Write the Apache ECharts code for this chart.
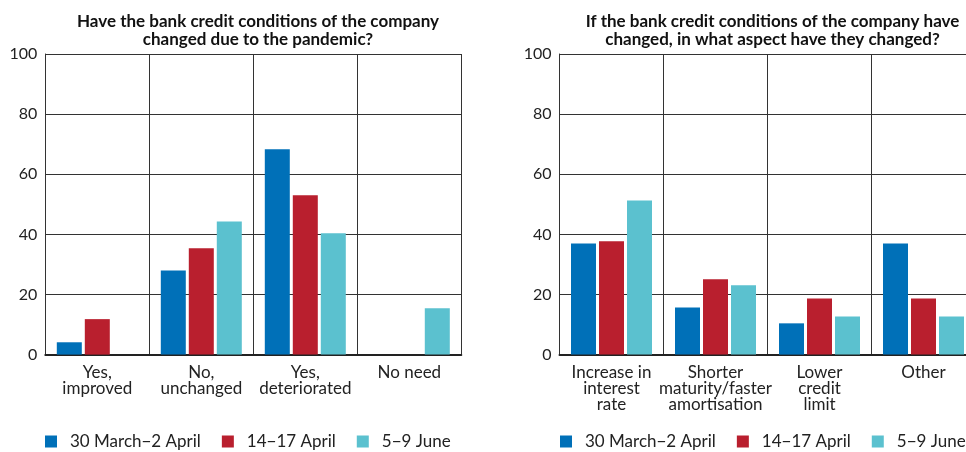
<!DOCTYPE html>
<html><head><meta charset="utf-8">
<script src="https://cdn.jsdelivr.net/npm/echarts@6/dist/echarts.min.js"></script>
<style>html,body{margin:0;padding:0;background:#fff}#c{width:966px;height:452px}</style>
</head><body><div id="c"></div>
<script>
var seriesNames = ['30 March\u22122 April', '14\u221217 April', '5\u22129 June'];
var colors = ['#0070b8', '#b91f2e', '#5bc1cf'];

var titleLeft = 'Have the bank credit conditions of the company\nchanged due to the pandemic?';
var categoriesLeft = ['Yes,\nimproved', 'No,\nunchanged', 'Yes,\ndeteriorated', 'No need'];
var marchLeft = [4.1, 28.0, 68.3, 0];
var aprilLeft = [11.8, 35.4, 53.0, 0];
var juneLeft = [0, 44.3, 40.4, 15.4];

var titleRight = 'If the bank credit conditions of the company have\nchanged, in what aspect have they changed?';
var categoriesRight = ['Increase in\ninterest\nrate', 'Shorter\nmaturity/faster\namortisation', 'Lower\ncredit\nlimit', 'Other'];
var marchRight = [37.0, 15.7, 10.4, 37.0];
var aprilRight = [37.7, 25.1, 18.7, 18.7];
var juneRight = [51.3, 23.1, 12.7, 12.7];

var yTicks = {min: 0, max: 100, interval: 20};

var font = 'Lato';
var chart = echarts.init(document.getElementById('c'));

function xAxis(cats, gi) {
  return {
    type: 'category', gridIndex: gi, data: cats,
    axisTick: {show: false},
    axisLine: {lineStyle: {color: '#222', width: 2}},
    splitLine: {show: true, lineStyle: {color: '#333', width: 1}},
    axisLabel: {interval: 0, fontFamily: font, fontSize: 17, lineHeight: 16, color: '#222', margin: 10}
  };
}
function yAxis(gi) {
  return {
    type: 'value', gridIndex: gi, min: yTicks.min, max: yTicks.max, interval: yTicks.interval,
    axisTick: {show: false},
    axisLine: {show: true, lineStyle: {color: '#333', width: 1}},
    splitLine: {show: true, lineStyle: {color: '#333', width: 1}},
    axisLabel: {fontFamily: font, fontSize: 16, color: '#222', margin: 8}
  };
}
function bars(name, data, gi, ci) {
  return {
    type: 'bar', name: name, data: data, xAxisIndex: gi, yAxisIndex: gi,
    barWidth: 25, barGap: '12%', itemStyle: {color: colors[ci]}, silent: true
  };
}
function legend(left) {
  return {
    left: left, top: 433, padding: 0, icon: 'rect', itemWidth: 12, itemHeight: 12, itemGap: 21,
    data: seriesNames,
    textStyle: {fontFamily: font, fontSize: 17, color: '#222', padding: [0, 0, 0, 8]}
  };
}

chart.setOption({
  animation: false,
  color: colors,
  title: [
    {text: titleLeft, left: 253, top: 8, textAlign: 'center',
     textStyle: {fontFamily: font, fontSize: 17, fontWeight: 'bold', lineHeight: 18, color: '#111'}},
    {text: titleRight, left: 767.5, top: 8, textAlign: 'center',
     textStyle: {fontFamily: font, fontSize: 17, fontWeight: 'bold', lineHeight: 18, color: '#111'}}
  ],
  legend: [legend(45), legend(560)],
  grid: [
    {left: 45.3, top: 54, width: 416, height: 300.6, outerBoundsMode: 'none'},
    {left: 559.5, top: 54, width: 416, height: 300.6, outerBoundsMode: 'none'}
  ],
  xAxis: [xAxis(categoriesLeft, 0), xAxis(categoriesRight, 1)],
  yAxis: [yAxis(0), yAxis(1)],
  series: [
    bars(seriesNames[0], marchLeft, 0, 0),
    bars(seriesNames[1], aprilLeft, 0, 1),
    bars(seriesNames[2], juneLeft, 0, 2),
    bars(seriesNames[0], marchRight, 1, 0),
    bars(seriesNames[1], aprilRight, 1, 1),
    bars(seriesNames[2], juneRight, 1, 2)
  ]
});
</script></body></html>
